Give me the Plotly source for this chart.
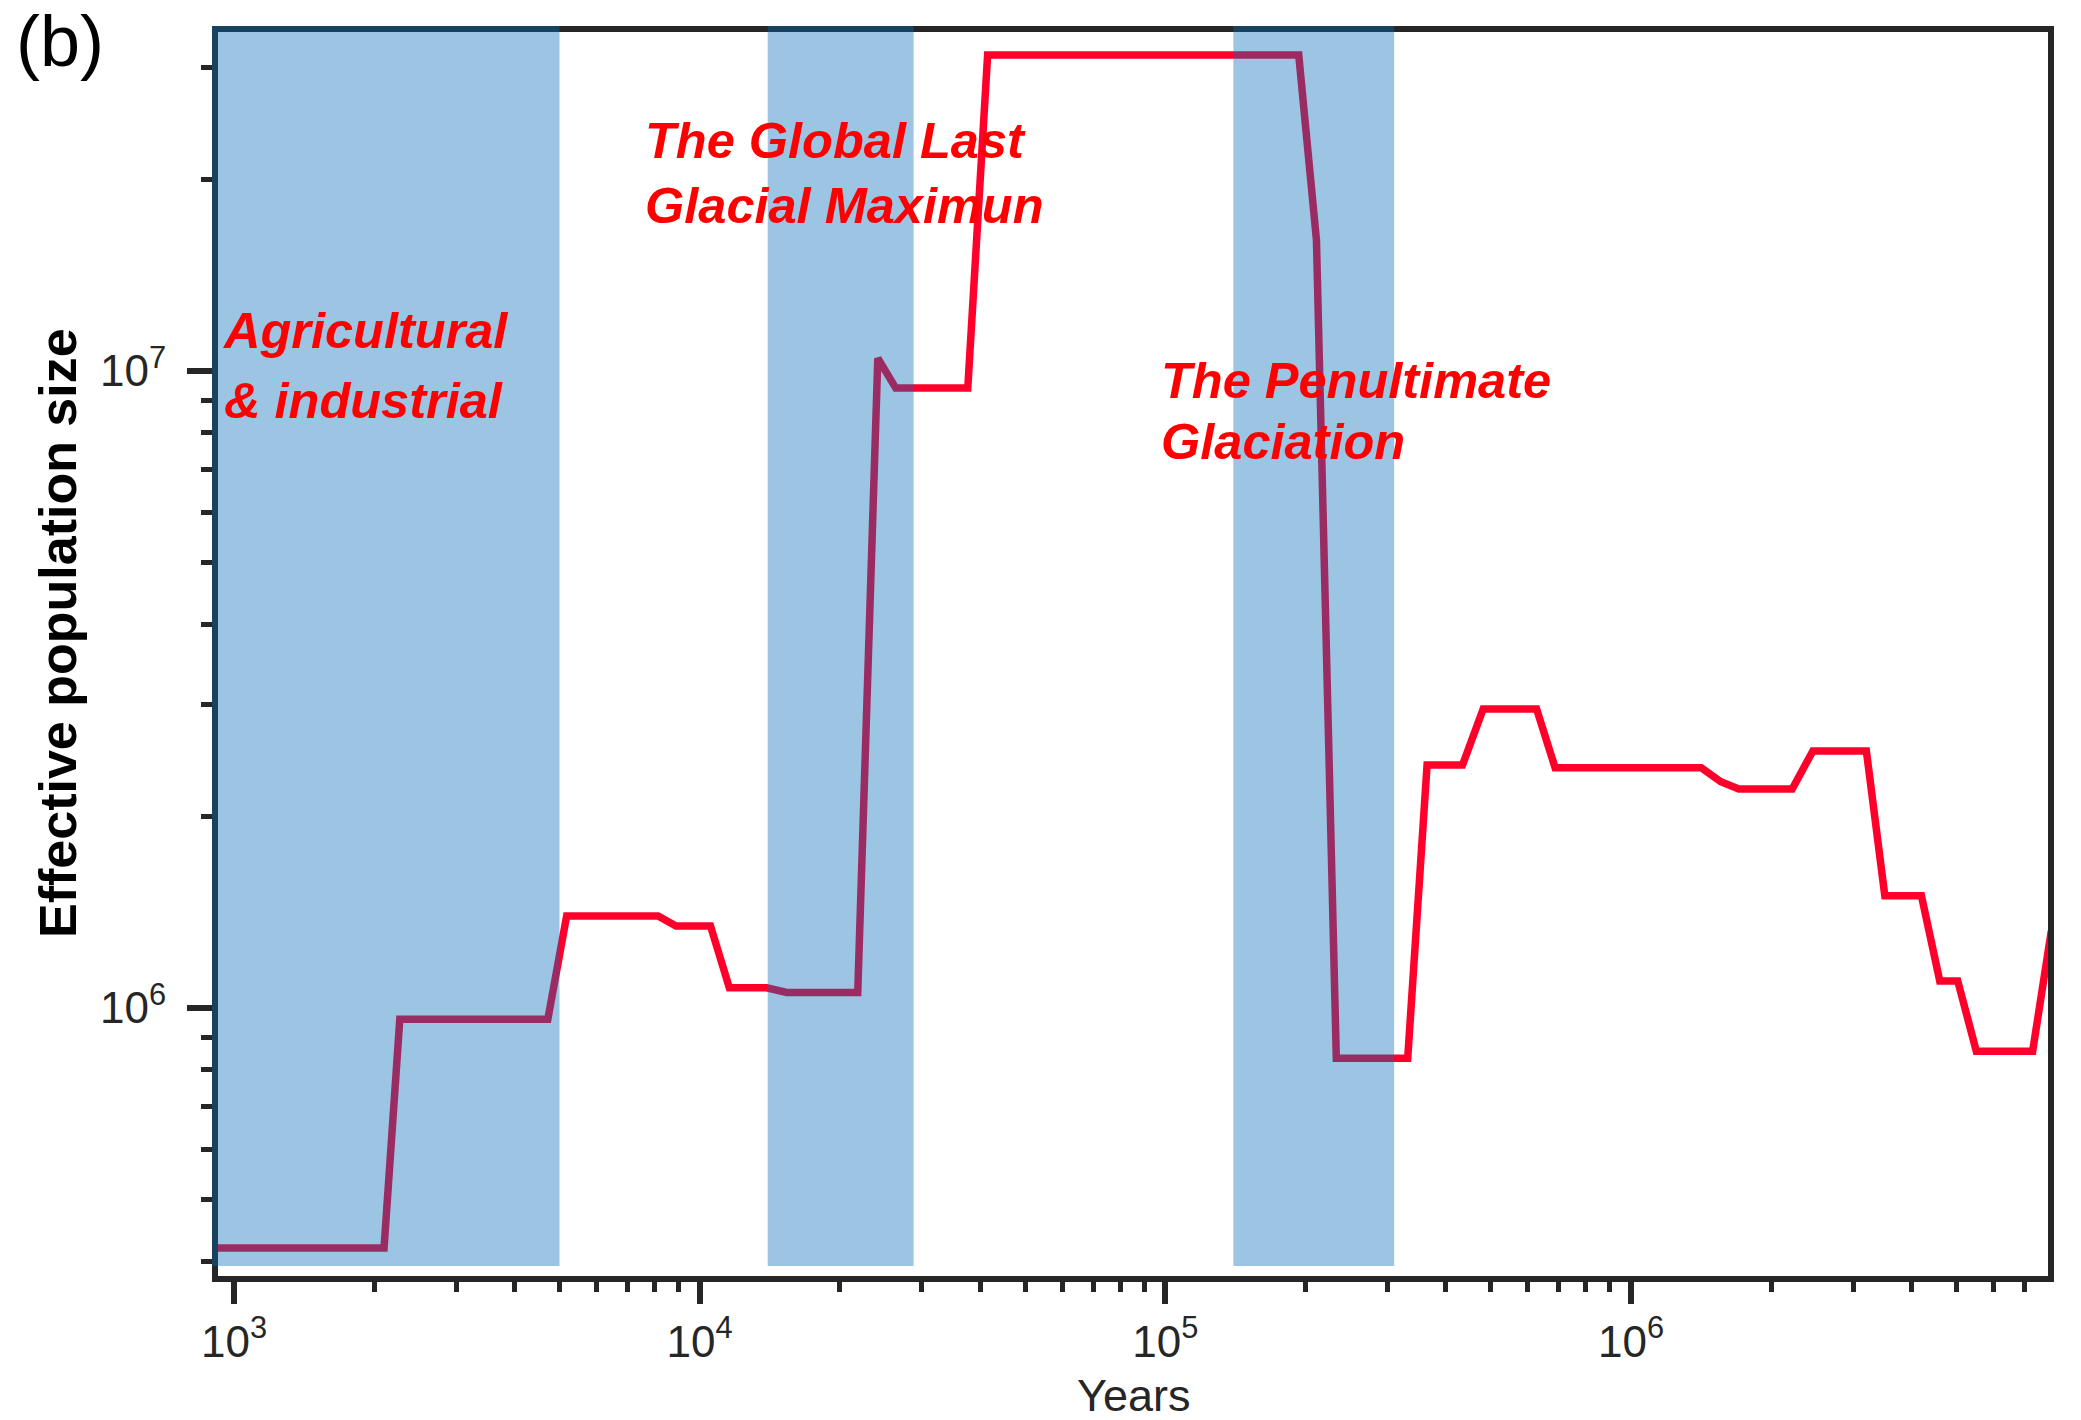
import plotly.graph_objects as go

# Effective population size history (PSMC-style step curve)
years = [900, 2100, 2270, 4720, 5180, 8140, 8900, 10550, 11580, 13930,
         15370, 21850, 24130, 26370, 37650, 41530, 193400, 211100, 232900, 331500,
         364800, 434700, 481500, 626900, 687100, 1415000, 1559000, 1704000, 2219000, 2458000,
         3202000, 3508000, 4204000, 4603000, 5030000, 5515000, 7287000, 7990000]
ne = [4.2e5, 4.2e5, 9.6e5, 9.6e5, 1.395e6, 1.395e6, 1.345e6, 1.345e6, 1.076e6, 1.076e6,
      1.058e6, 1.058e6, 1.047e7, 9.40e6, 9.40e6, 3.134e7, 3.134e7, 1.606e7, 8.34e5, 8.34e5,
      2.407e6, 2.407e6, 2.948e6, 2.948e6, 2.383e6, 2.383e6, 2.266e6, 2.207e6, 2.207e6, 2.533e6,
      2.533e6, 1.5e6, 1.5e6, 1.103e6, 1.103e6, 8.556e5, 8.556e5, 1.32e6]

# Climatic periods (years before present)
period_starts = [500, 14000, 140000]
period_ends = [5000, 28800, 310000]

# Period labels, one entry per text line
period_lines = ["Agricultural", "& industrial",
                "The Global Last", "Glacial Maximun",
                "The Penultimate", "Glaciation"]

x_tickvals = [1e3, 1e4, 1e5, 1e6]
x_ticktext = ["10<sup>3</sup>", "10<sup>4</sup>", "10<sup>5</sup>", "10<sup>6</sup>"]
y_tickvals = [1e6, 1e7]
y_ticktext = ["10<sup>6</sup>", "10<sup>7</sup>"]

x_minor = [m * 10 ** e for e in (2, 3, 4, 5, 6) for m in range(2, 10)]
y_minor = [m * 10 ** e for e in (5, 6, 7) for m in range(2, 10)]

# ---- styling ----
W, H = 2081, 1420
L, R, T, B = 218, 2048, 32, 1276
AX = "rgb(38,38,38)"
SHADE = "rgba(5,110,185,0.4)"
LINE_RED = "rgb(255,0,42)"
TXT_RED = "rgb(255,0,0)"
SANS = "Liberation Sans, Arial, sans-serif"


def xp(px):
    return (px - L) / (R - L)


def yp(py):
    return (B - py) / (B - T)


fig = go.Figure()
fig.add_trace(go.Scatter(
    x=years, y=ne, mode="lines",
    line=dict(color=LINE_RED, width=7.5),
    showlegend=False, hoverinfo="skip",
))

shade_y0 = yp(1266)
shade_y1 = yp(26)
shapes = []
for x0, x1 in zip(period_starts, period_ends):
    shapes.append(dict(type="rect", xref="x", yref="paper", x0=x0, x1=x1,
                       y0=shade_y0, y1=shade_y1, fillcolor=SHADE,
                       line=dict(width=0), layer="above"))
# continue the first band over the left frame line
shapes.append(dict(type="rect", xref="paper", xsizemode="pixel", xanchor=0,
                   x0=-6, x1=0, yref="paper", y0=shade_y0, y1=shade_y1,
                   fillcolor=SHADE, line=dict(width=0), layer="above"))

S_ANN = 50.5
asc = 0.905
ann_pos = [(220, 347), (222, 417), (643, 157), (643, 222), (1159, 397), (1159, 458)]
annotations = []
for text, (lx, base) in zip(period_lines, ann_pos):
    annotations.append(dict(
        text=text, xref="paper", yref="paper",
        x=xp(lx), y=yp(base - asc * S_ANN - 1),
        xanchor="left", yanchor="top", showarrow=False,
        font=dict(family=SANS, size=S_ANN, color=TXT_RED, weight="bold", style="italic"),
    ))

annotations.append(dict(
    text="Effective population size", xref="paper", yref="paper",
    x=xp(58), y=yp(633), xanchor="center", yanchor="middle",
    textangle=-90, showarrow=False,
    font=dict(family=SANS, size=52, color="black", weight="bold"),
))
annotations.append(dict(
    text="Years", xref="paper", yref="paper",
    x=0.5, y=yp(1410 - asc * 45), xanchor="center", yanchor="top",
    borderpad=0, showarrow=False, font=dict(family=SANS, size=45, color=AX),
))
annotations.append(dict(
    text="(b)", xref="paper", yref="paper",
    x=xp(15), y=yp(0), xanchor="left", yanchor="top",
    borderpad=0, showarrow=False, font=dict(family=SANS, size=72, color="black"),
))

axis_common = dict(
    type="log", showline=True, linewidth=6, linecolor=AX, mirror=True,
    ticks="outside", tickcolor=AX, tickwidth=6,
    tickmode="array", showgrid=False, zeroline=False,
    tickfont=dict(family=SANS, size=44, color=AX),
)

fig.update_layout(
    width=W, height=H,
    margin=dict(l=L, r=W - R, t=T, b=H - B, autoexpand=False),
    paper_bgcolor="white", plot_bgcolor="white",
    xaxis=dict(axis_common, range=[2.96564, 6.89548], ticklen=22,
               tickvals=x_tickvals, ticktext=x_ticktext, ticklabelstandoff=0,
               minor=dict(tickmode="array", tickvals=x_minor, ticks="outside",
                          ticklen=10, tickwidth=4.5, tickcolor=AX, showgrid=False)),
    yaxis=dict(axis_common, range=[5.57928, 7.53218], ticklen=25,
               tickvals=y_tickvals, ticktext=y_ticktext, ticklabelstandoff=12,
               minor=dict(tickmode="array", tickvals=y_minor, ticks="outside",
                          ticklen=11, tickwidth=4.5, tickcolor=AX, showgrid=False)),
    shapes=shapes,
    annotations=annotations,
    showlegend=False,
)

fig.write_html("out.html")
